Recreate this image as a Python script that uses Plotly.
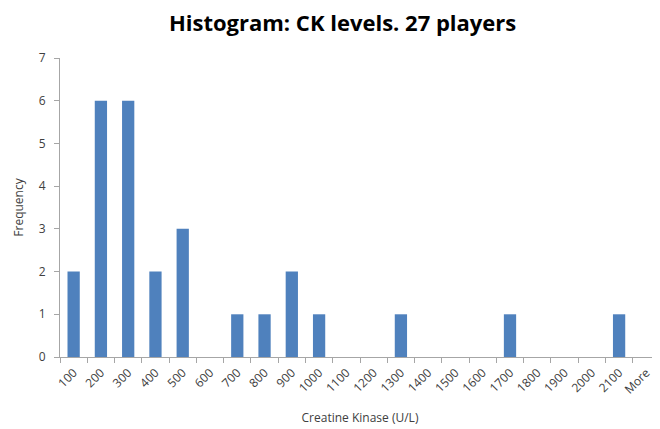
import plotly.graph_objects as go

categories = ["100", "200", "300", "400", "500", "600", "700", "800", "900", "1000",
              "1100", "1200", "1300", "1400", "1500", "1600", "1700", "1800", "1900",
              "2000", "2100", "More"]
frequency = [2, 6, 6, 2, 3, 0, 1, 1, 2, 1, 0, 0, 1, 0, 0, 0, 1, 0, 0, 0, 1, 0]

fig = go.Figure(go.Bar(x=categories, y=frequency, marker=dict(color="#4F81BD", line=dict(width=0))))

fig.update_layout(
    width=660, height=429,
    margin=dict(l=52, r=8, t=50, b=80, autoexpand=False),
    paper_bgcolor="white", plot_bgcolor="white",
    bargap=0.55,
    showlegend=False,
    font=dict(family="Open Sans, Liberation Sans, sans-serif", color="#404040"),
    title=dict(text="<b>Histogram: CK levels. 27 players</b>", x=0.507, xanchor="center",
               xref="container", y=0.965, yanchor="middle", font=dict(size=22, color="#000000")),
)
fig.update_xaxes(
    type="category", tickson="boundaries", ticks="outside", ticklen=5, tickcolor="#A6A6A6",
    showline=True, linecolor="#A6A6A6", linewidth=1, tickangle=-45, ticklabelstandoff=3,
    tickfont=dict(size=12, color="#404040"),
    title=dict(text="Creatine Kinase (U/L)", font=dict(size=12, color="#404040"), standoff=17),
    showgrid=False,
)
fig.update_yaxes(
    range=[0, 7], dtick=1, ticks="outside", ticklen=5, tickcolor="#A6A6A6",
    showline=True, linecolor="#A6A6A6", linewidth=1, showgrid=False, zeroline=False,
    ticklabelstandoff=6,
    tickfont=dict(size=12, color="#404040"),
    title=dict(text="Frequency", font=dict(size=12, color="#404040"), standoff=12),
)

fig.write_html("out.html")
